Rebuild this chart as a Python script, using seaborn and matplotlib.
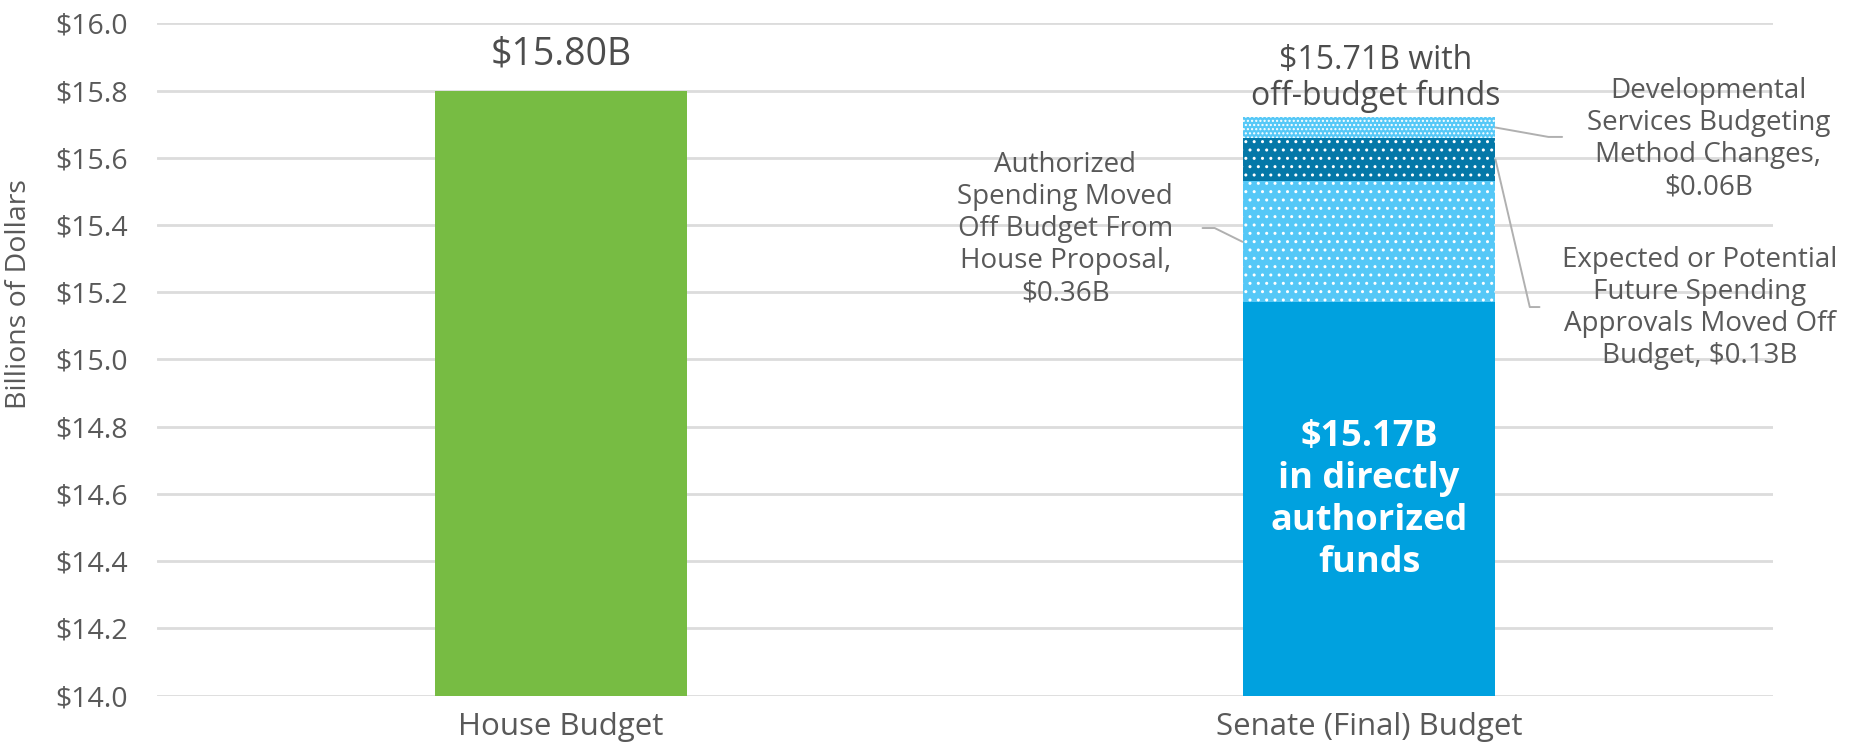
import numpy as np
import pandas as pd
import matplotlib
matplotlib.use('Agg')
import matplotlib.pyplot as plt
from matplotlib.ticker import FuncFormatter
import seaborn as sns

# Data (billions of dollars)
categories = ['House Budget', 'Senate (Final) Budget']
house_budget = 15.80
senate_direct = 15.17
off_budget_labels = ['Authorized\nSpending Moved\nOff Budget From\nHouse Proposal,\n$0.36B',
                     'Expected or Potential\nFuture Spending\nApprovals Moved Off\nBudget, $0.13B',
                     'Developmental\nServices Budgeting\nMethod Changes,\n$0.06B']
off_budget_values = [0.36, 0.13, 0.06]
senate_total_label = '$15.71B with\noff-budget funds'
house_label = '$15.80B'
direct_label = '$15.17B\nin directly\nauthorized\nfunds'
y_ticks = [14.0, 14.2, 14.4, 14.6, 14.8, 15.0, 15.2, 15.4, 15.6, 15.8, 16.0]

GREEN = '#77bc43'
BLUE = '#00a1df'
LIGHT = '#55c8f7'
DARK = '#0478a8'
TEXT = '#595959'

sns.set_theme(style='white')
plt.rcParams['font.family'] = ['Open Sans', 'DejaVu Sans']
plt.rcParams['hatch.linewidth'] = 1.0

fig = plt.figure(figsize=(18.62, 7.49), dpi=100)
ax = fig.add_axes([0.0843, 0.0712, 0.8679, 0.8977])

bw = 0.313
tops = senate_direct + np.cumsum(off_budget_values)
bottoms = np.concatenate([[senate_direct], tops[:-1]])

# house bar
sns.barplot(x=[categories[0]], y=[house_budget], order=categories, color=GREEN,
            saturation=1, width=bw, linewidth=0, ax=ax)

# senate stack, drawn top-down so each layer covers the upper one's lower part
styles = [(LIGHT, '..'), (DARK, '..'), (LIGHT, '....')]
for i in [2, 1, 0]:
    col, hatch = styles[i]
    sns.barplot(x=[categories[1]], y=[tops[i]], order=categories, color=col,
                saturation=1, width=bw, hatch=hatch, edgecolor='white',
                linewidth=0, ax=ax)
sns.barplot(x=[categories[1]], y=[senate_direct], order=categories, color=BLUE,
            saturation=1, width=bw, linewidth=0, ax=ax)

ax.set_ylim(14.0, 16.0)
ax.set_xlim(-0.5, 1.5)
ax.set_yticks(y_ticks)
ax.yaxis.set_major_formatter(FuncFormatter(lambda v, p: f'${v:.1f}'))
ax.yaxis.grid(True, color='#dcdcdc', linewidth=2)
ax.xaxis.grid(False)
ax.set_axisbelow(True)
sns.despine(ax=ax, left=True, bottom=True)
ax.tick_params(axis='y', length=0, pad=21, labelsize=20.5, labelcolor=TEXT)
ax.tick_params(axis='x', length=0, pad=12, labelsize=22.5, labelcolor=TEXT)
ax.set_xlabel('')
ax.set_ylabel('Billions of Dollars', fontsize=20.5, color=TEXT)
ax.yaxis.set_label_coords(-0.077, 0.597)

# value labels
ax.annotate(house_label, (0, house_budget), xytext=(0, 12), textcoords='offset points',
            ha='center', va='bottom', fontsize=27, color='#4d4d4d')
ax.annotate(senate_total_label, (1.008, tops[-1]), xytext=(0, 3), textcoords='offset points',
            ha='center', va='bottom', fontsize=23, color='#4d4d4d', linespacing=1.12)
ax.text(1, 14.582, direct_label, ha='center', va='center', fontsize=26,
        color='white', fontweight='bold', linespacing=1.22)

# callouts
mids = bottoms + np.array(off_budget_values) / 2
ax.text(0.624, 15.388, off_budget_labels[0], ha='center', va='center', fontsize=20,
        color=TEXT, linespacing=1.2)
ax.text(1.409, 15.153, off_budget_labels[1], ha='center', va='center', fontsize=20,
        color=TEXT, linespacing=1.2, clip_on=False)
ax.text(1.42, 15.656, off_budget_labels[2], ha='center', va='center', fontsize=20,
        color=TEXT, linespacing=1.2, clip_on=False)

lc = '#b0b0b0'
ax.plot([0.794, 0.809, 1 - bw / 2], [15.391, 15.391, mids[0]], color=lc, lw=1.4, clip_on=False)
ax.plot([1 + bw / 2, 1.199, 1.211], [mids[1], 15.156, 15.156], color=lc, lw=1.4, clip_on=False)
ax.plot([1 + bw / 2, 1.222, 1.239], [mids[2], 15.662, 15.662], color=lc, lw=1.4, clip_on=False)

fig.savefig('out.png', dpi=100)
